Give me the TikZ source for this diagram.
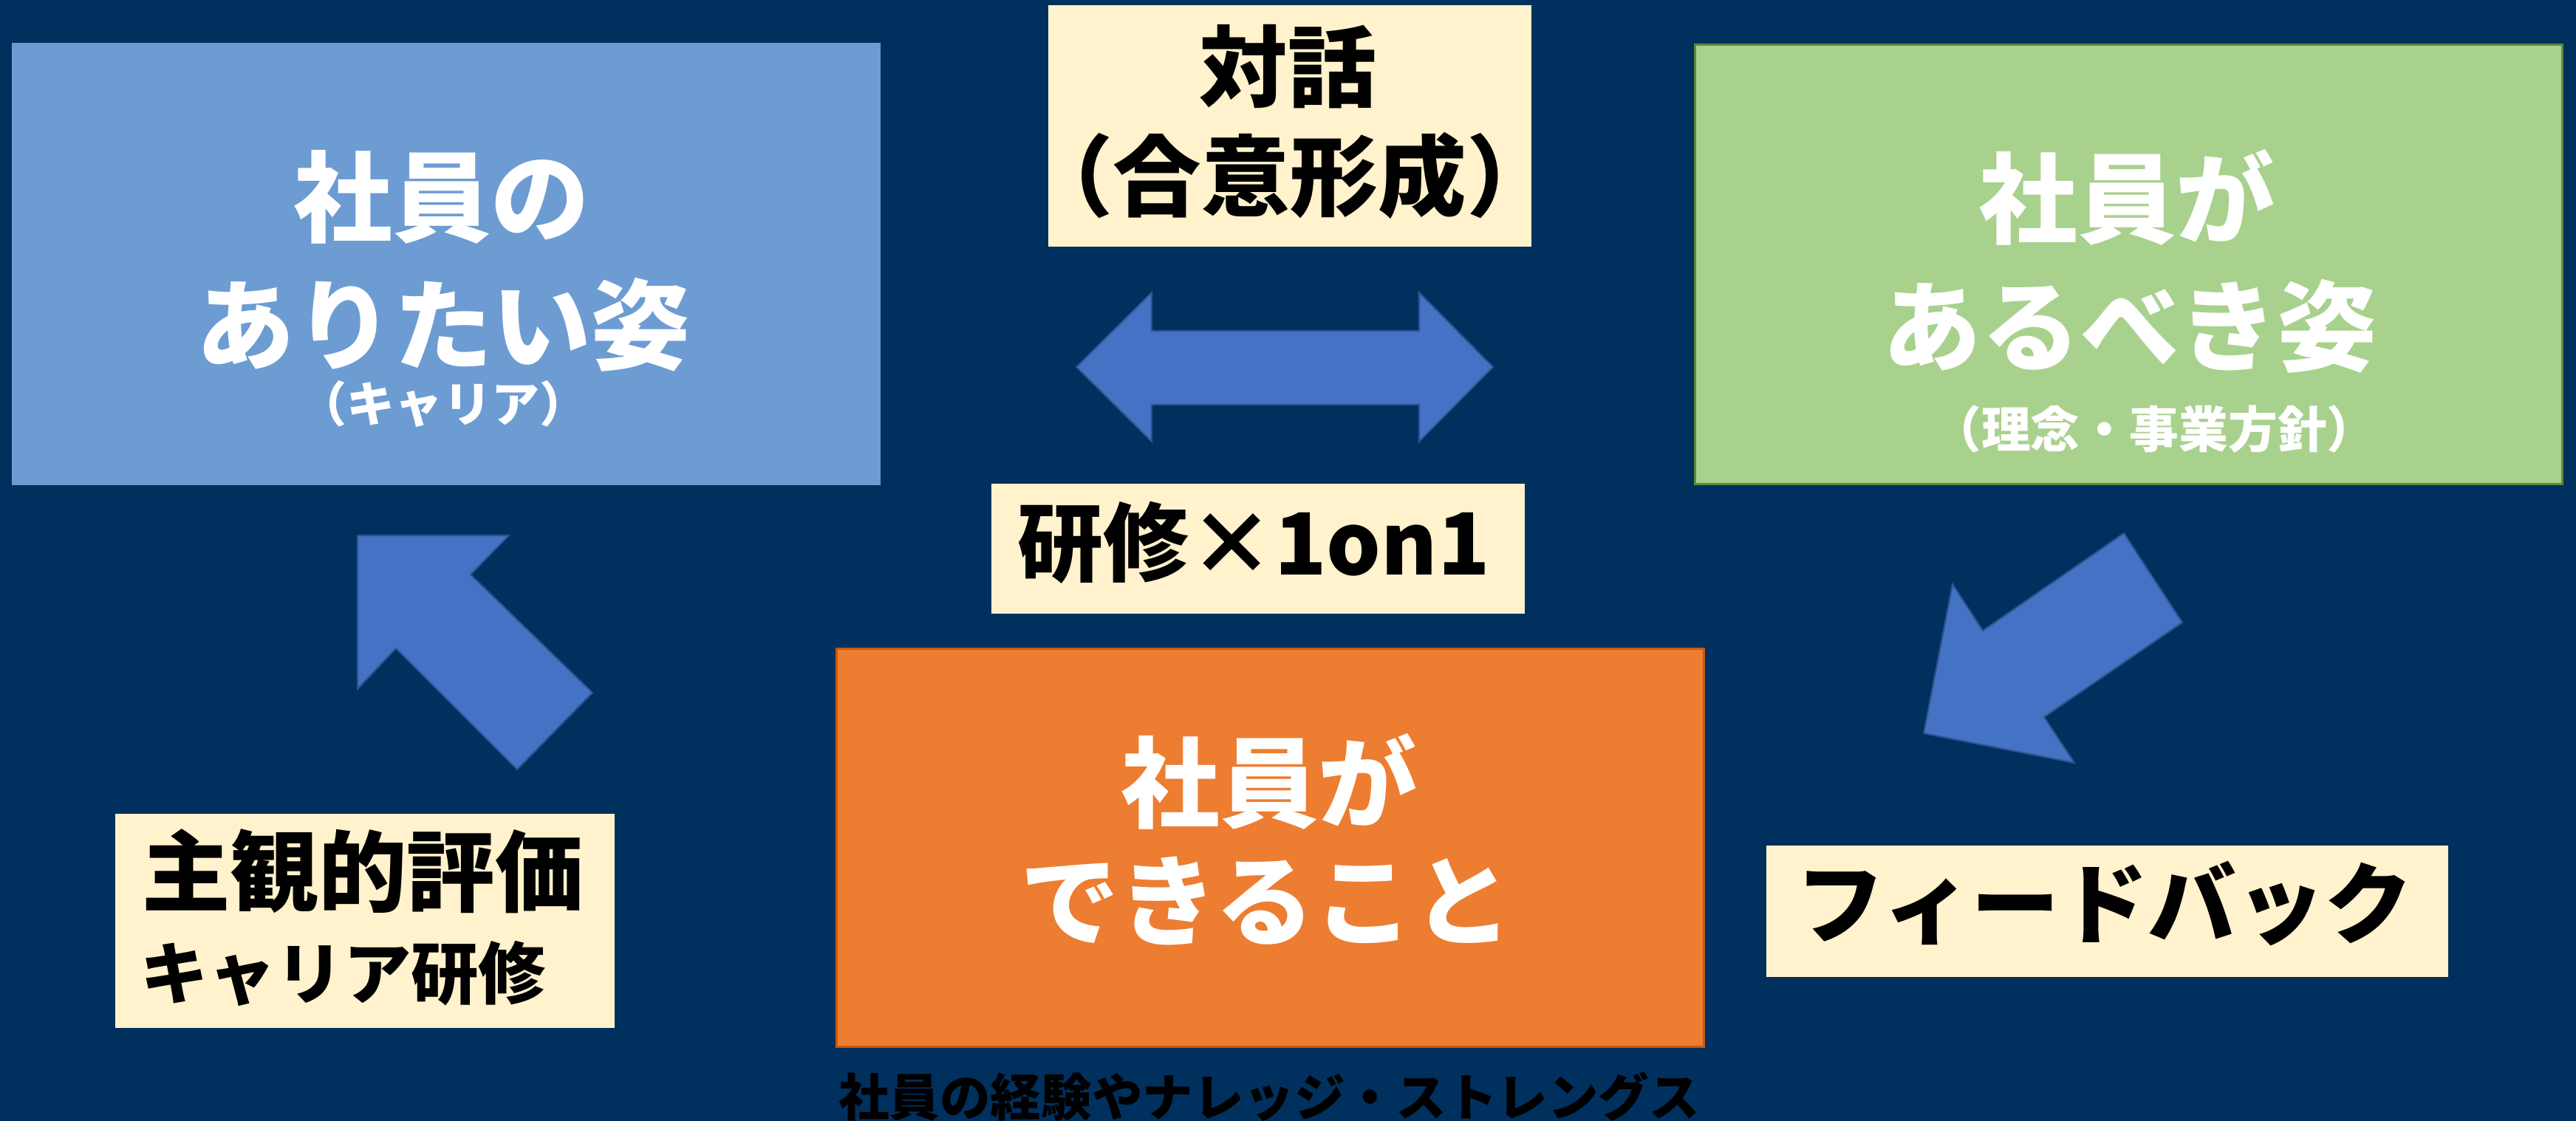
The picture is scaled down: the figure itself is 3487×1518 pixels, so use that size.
\documentclass[tikz,border=0pt]{standalone}
\usepackage{fontspec}
\newfontfamily\jp{Noto Sans CJK JP}
\definecolor{bg}{HTML}{00305E}
\definecolor{bluebox}{HTML}{6D9CD3}
\definecolor{greenbox}{HTML}{A9D18E}
\definecolor{greenline}{HTML}{5B8C3A}
\definecolor{orangebox}{HTML}{ED7D31}
\definecolor{orangeline}{HTML}{C55A11}
\definecolor{cream}{HTML}{FFF2CC}
\definecolor{arrowfill}{HTML}{4472C4}
\definecolor{arrowline}{HTML}{2F528F}
\begin{document}
\begin{tikzpicture}[x=0.01cm,y=-0.01cm,
  boxnode/.style={inner sep=0pt, outer sep=0pt, anchor=center},
  labelbox/.style={boxnode, fill=cream, draw=none},
  bigtext/.style={inner sep=0pt, text=white, font=\jp\bfseries\fontsize{38}{48}\selectfont},
  subtext/.style={inner sep=0pt, text=white, font=\jp\bfseries\fontsize{18.5}{22}\selectfont},
  lbltext/.style={inner sep=0pt, text=black, font=\jp\bfseries\fontsize{34}{42}\selectfont},
  blockarrow/.style={fill=arrowfill, draw=arrowline, line width=0.6pt, line join=miter}
]
\fill[bg] (0,0) rectangle (3487,1518);
\useasboundingbox (0,0) rectangle (3487,1518);

% main boxes
\node[boxnode, fill=bluebox, minimum width=11.76cm, minimum height=5.99cm] (want) at (604,357.5) {};
\node[boxnode, fill=greenbox, draw=greenline, line width=0.9pt, minimum width=11.73cm, minimum height=5.94cm] (should) at (2881.5,358) {};
\node[boxnode, fill=orangebox, draw=orangeline, line width=0.9pt, minimum width=11.73cm, minimum height=5.38cm] (can) at (1719.5,1148) {};

% label boxes
\node[labelbox, minimum width=6.54cm, minimum height=3.27cm] (dlgbox) at (1746,170.5) {};
\node[labelbox, minimum width=7.22cm, minimum height=1.76cm] (trnbox) at (1703,743) {};
\node[labelbox, minimum width=6.76cm, minimum height=2.90cm] (evlbox) at (494,1247) {};
\node[labelbox, minimum width=9.23cm, minimum height=1.78cm] (fdbbox) at (2852.5,1234) {};

% texts in main boxes
\node[bigtext] (want1) at (598,267) {社員の};
\node[bigtext] (want2) at (600,440) {ありたい姿};
\node[subtext] (want3) at (600,547) {（キャリア）};
\node[bigtext] (should1) at (2879,267) {社員が};
\node[bigtext] (should2) at (2883,442) {あるべき姿};
\node[subtext, font=\jp\bfseries\fontsize{19}{23}\selectfont] (should3) at (2916,581) {（理念・事業方針）};
\node[bigtext] (can1) at (1718,1058) {社員が};
\node[bigtext] (can2) at (1714,1220) {できること};

% texts in label boxes
\node[lbltext] (dlg1) at (1743,90) {対話};
\node[lbltext] (dlg2) at (1746,238) {（合意形成）};
\node[lbltext, font=\jp\bfseries\fontsize{33}{40}\selectfont] (trn) at (1697,735) {研修×1on1};
\node[lbltext] (evl1) at (491,1180) {主観的評価};
\node[lbltext, font=\jp\bfseries\fontsize{26}{32}\selectfont, anchor=west] (evl2) at (190,1318) {キャリア研修};
\node[lbltext] (fdb) at (2849,1224) {フィードバック};

% bottom caption
\node[inner sep=0pt, text=black, font=\jp\bfseries\fontsize{19.5}{24}\selectfont] (caption) at (1718,1485) {社員の経験やナレッジ・ストレングス};

% block arrows
\draw[blockarrow] (1457,497) -- (1559,396) -- (1559,448) -- (1921,448) -- (1921,396)
  -- (2021,497) -- (1921,598) -- (1921,548) -- (1559,548) -- (1559,598) -- cycle;
\draw[blockarrow] (484,725) -- (689,725) -- (637,778) -- (802,938) -- (700,1042)
  -- (536,878) -- (484,933) -- cycle;
\draw[blockarrow] (2875,722) -- (2954,843) -- (2767,971) -- (2808,1033) -- (2604,993)
  -- (2643,791) -- (2684,854) -- cycle;
\end{tikzpicture}
\end{document}
